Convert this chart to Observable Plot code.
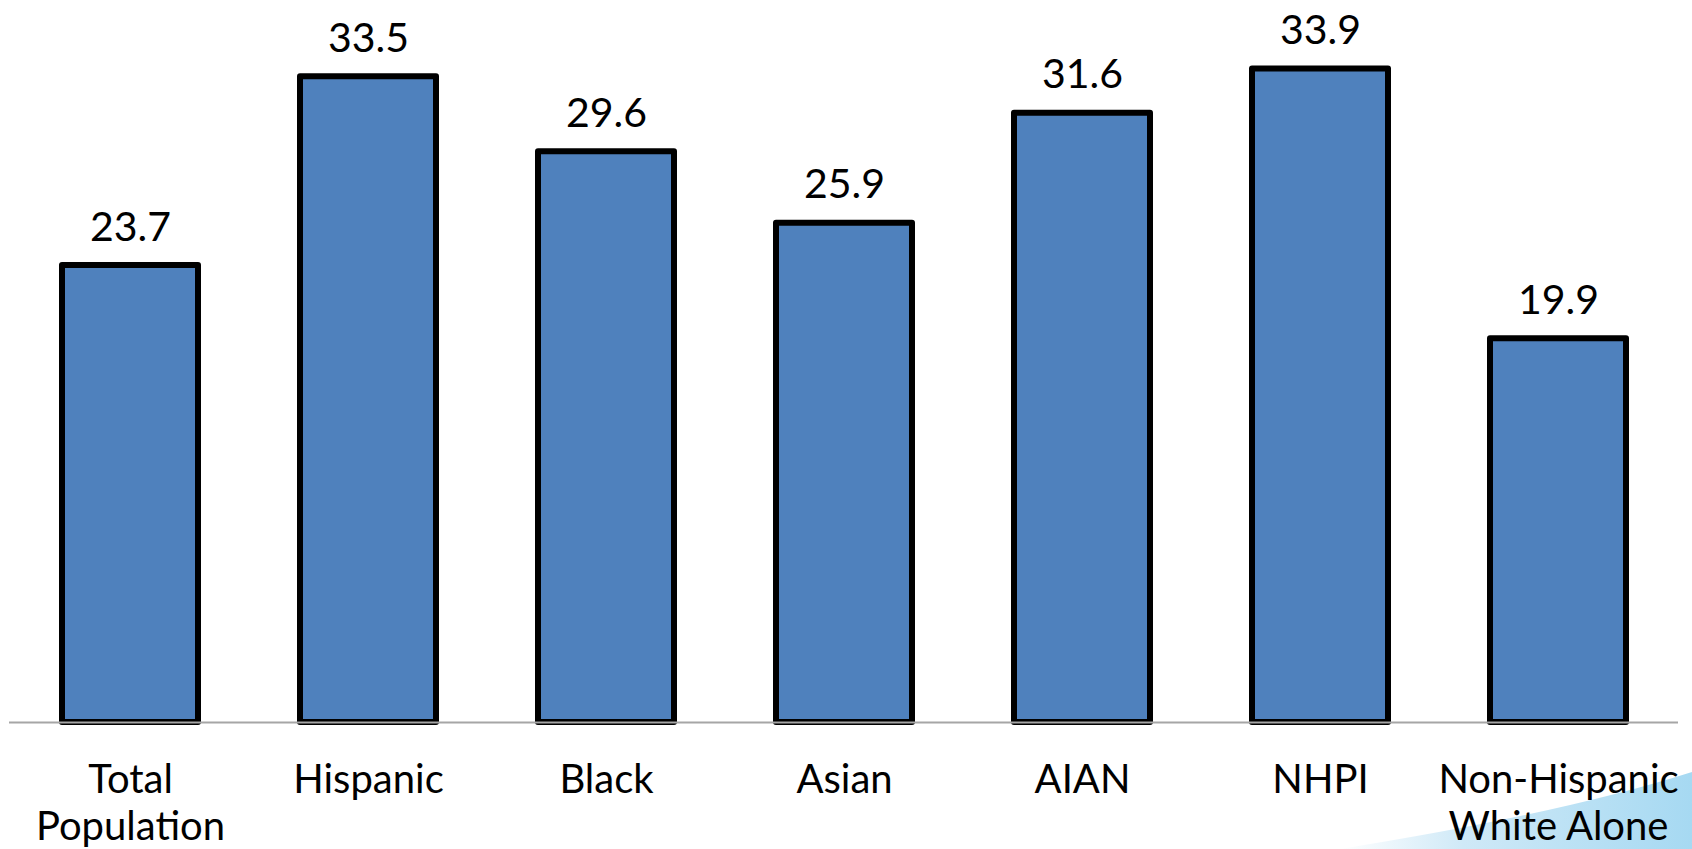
<!DOCTYPE html>
<html>
<head>
<meta charset="utf-8">
<script src="https://cdn.jsdelivr.net/npm/d3@7"></script>
<script src="https://cdn.jsdelivr.net/npm/@observablehq/plot@0.6"></script>
<style>
  html, body { margin: 0; padding: 0; background: #ffffff; }
  #wrap { position: relative; width: 1692px; height: 849px; overflow: hidden; }
  #deco { position: absolute; left: 0; top: 0; }
  #chart { position: absolute; left: 0; top: 0; }
</style>
</head>
<body>
<div id="wrap">
  <svg id="deco" width="1692" height="849" viewBox="0 0 1692 849">
    <defs>
      <linearGradient id="sw" x1="0" x2="1" y1="0" y2="0">
        <stop offset="0" stop-color="#ffffff"/>
        <stop offset="0.35" stop-color="#cfe9f7"/>
        <stop offset="1" stop-color="#a6d9f2"/>
      </linearGradient>
    </defs>
    <path d="M1340 849 Q1560 814 1692 772 L1692 849 Z" fill="url(#sw)"/>
  </svg>
  <div id="chart"></div>
</div>
<script>
const categories = ["Total Population", "Hispanic", "Black", "Asian", "AIAN", "NHPI", "Non-Hispanic White Alone"];
const tickLabels = ["Total\nPopulation", "Hispanic", "Black", "Asian", "AIAN", "NHPI", "Non-Hispanic\nWhite Alone"];
const values = [23.7, 33.5, 29.6, 25.9, 31.6, 33.9, 19.9];

const data = categories.map((c, i) => ({category: c, value: values[i]}));
const labelOf = new Map(categories.map((c, i) => [c, tickLabels[i]]));

const chart = Plot.plot({
  width: 1692,
  height: 849,
  marginLeft: 9,
  marginRight: 14,
  marginTop: 0,
  marginBottom: 127,
  style: {background: "transparent", fontFamily: "Lato, 'Open Sans', sans-serif", color: "#000"},
  x: {domain: categories, paddingInner: 0.43, paddingOuter: 0.215},
  y: {domain: [0, 37.45], axis: null},
  marks: [
    Plot.barY(data, {x: "category", y: "value", fill: "#4F81BD", stroke: "#000", strokeWidth: 6, strokeLinejoin: "round"}),
    Plot.ruleY([0], {stroke: "#a6a6a6", strokeWidth: 2}),
    Plot.text(data, {x: "category", y: "value", text: d => d.value.toFixed(1), dy: -38, fontSize: 41, fill: "#000"}),
    Plot.axisX({tickSize: 0, tickPadding: 37, fontSize: 40, lineHeight: 1.17, tickFormat: d => labelOf.get(d), label: null, fill: "#000"})
  ]
});
document.getElementById("chart").appendChild(chart);
</script>
</body>
</html>
